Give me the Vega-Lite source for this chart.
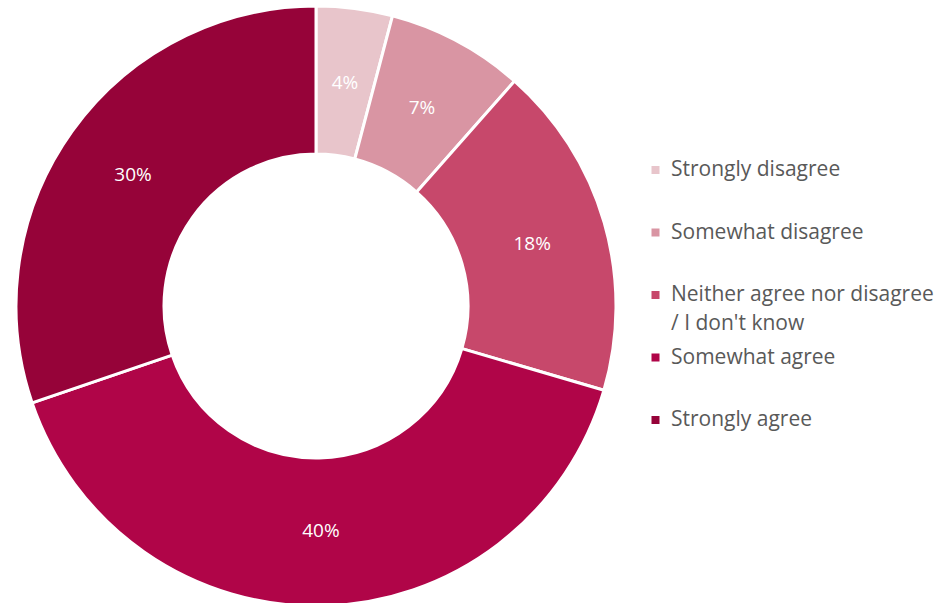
{
  "$schema": "https://vega.github.io/schema/vega-lite/v6.json",
  "width": 632,
  "height": 608,
  "padding": 0,
  "background": "white",
  "config": {"view": {"stroke": null}, "font": "Open Sans", "style": {"guide-label": {"lineHeight": 29}}},
  "data": {
    "values": [
      {"category": "Strongly disagree", "share": 0.041, "i": 1},
      {"category": "Somewhat disagree", "share": 0.074, "i": 2},
      {"category": "Neither agree nor disagree / I don't know", "share": 0.180, "i": 3},
      {"category": "Somewhat agree", "share": 0.402, "i": 4},
      {"category": "Strongly agree", "share": 0.302, "i": 5}
    ]
  },
  "encoding": {
    "theta": {"field": "share", "type": "quantitative", "stack": true},
    "order": {"field": "i", "type": "quantitative"}
  },
  "layer": [
    {
      "mark": {"type": "arc", "outerRadius": 300, "innerRadius": 152, "stroke": "white", "strokeWidth": 3},
      "encoding": {
        "color": {
          "field": "category",
          "type": "nominal",
          "scale": {
            "domain": ["Strongly disagree", "Somewhat disagree", "Neither agree nor disagree / I don't know", "Somewhat agree", "Strongly agree"],
            "range": ["#E8C5CB", "#D995A3", "#C7486B", "#B00548", "#960339"]
          },
          "sort": null,
          "legend": {
            "title": null,
            "orient": "none",
            "legendX": 645,
            "legendY": 157,
            "symbolType": "square",
            "symbolSize": 64,
            "symbolStrokeWidth": 0,
            "labelFontSize": 21,
            "labelColor": "#595959",
            "labelFont": "Open Sans",
            "labelLimit": 400,
            "labelOffset": 5,
            "clipHeight": 22,
            "gridAlign": "all",
            "rowPadding": 12.5,
            "labelExpr": "indexof(datum.label, '/') > 0 ? ['Neither agree nor disagree', \"/ I don't know\"] : datum.label"
          }
        }
      }
    },
    {
      "mark": {"type": "text", "radius": 225, "color": "white", "fontSize": 19, "font": "Open Sans"},
      "encoding": {
        "text": {"field": "share", "type": "quantitative", "format": ".0%"}
      }
    }
  ]
}
